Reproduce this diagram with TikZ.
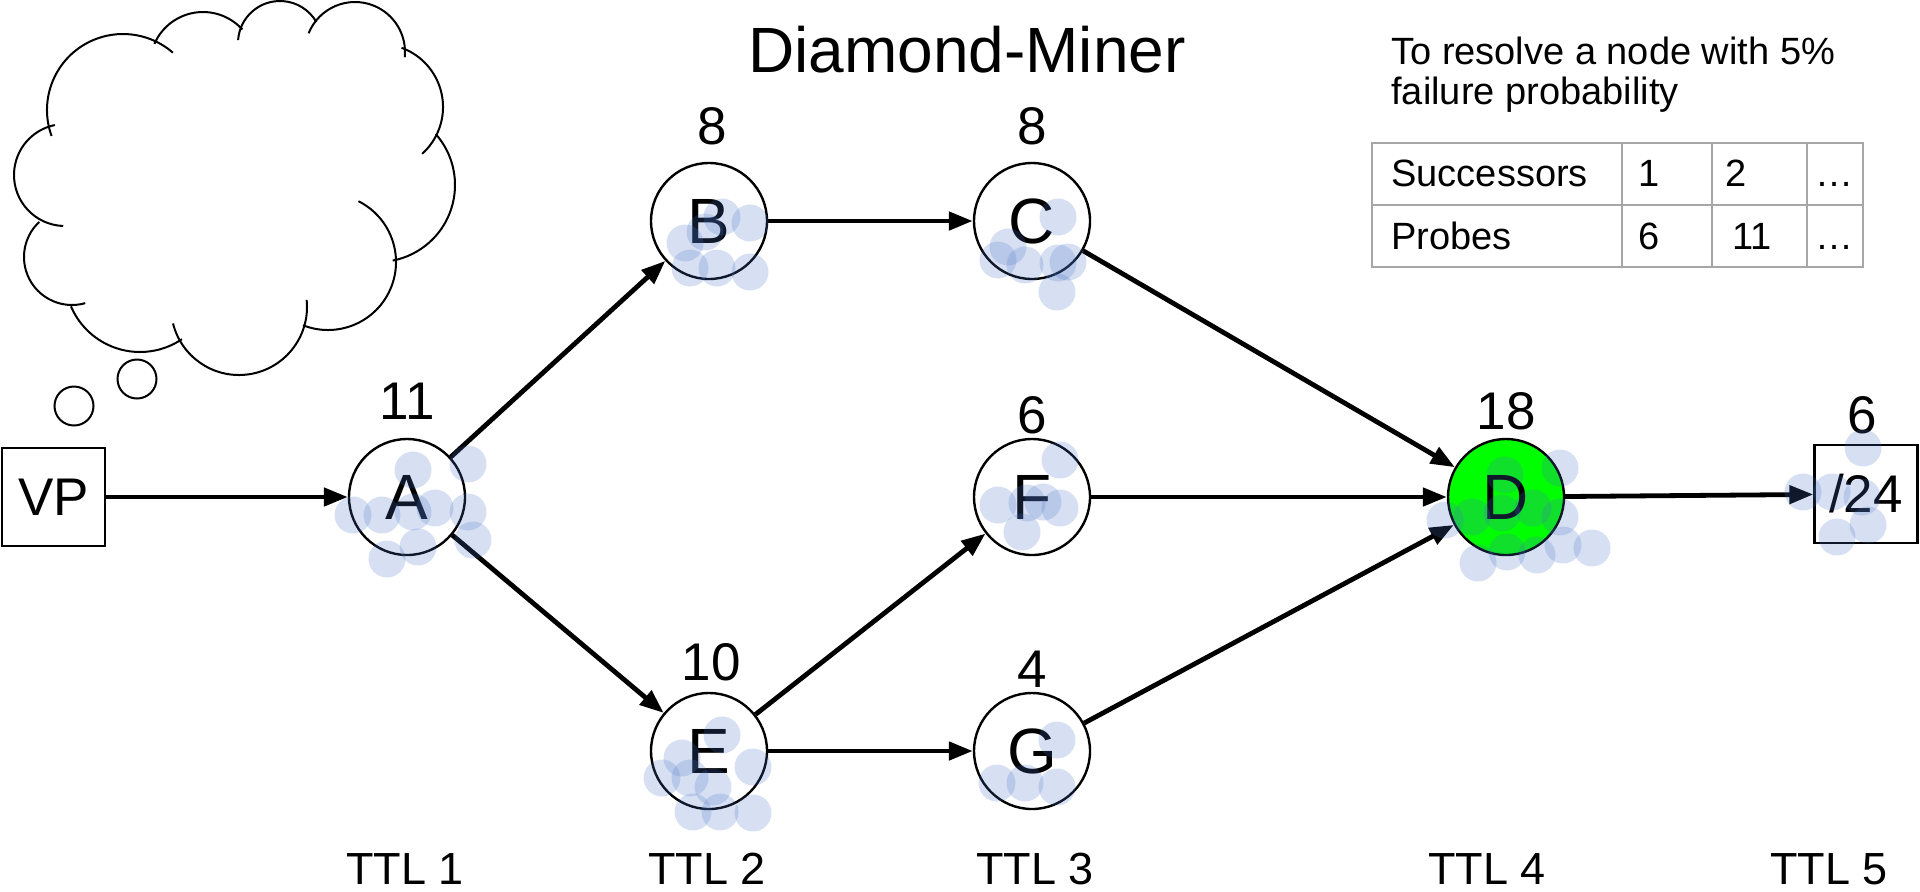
\documentclass[tikz,border=0pt]{standalone}
\usepackage{fontspec}
\setmainfont{Liberation Sans}
\usetikzlibrary{arrows.meta}

\definecolor{probeblue}{RGB}{74,114,196}
\definecolor{tablegray}{RGB}{166,166,166}
\definecolor{hitgreen}{RGB}{0,255,0}

\tikzset{
  hop/.style={circle, draw, line width=1.2pt, minimum size=58pt, inner sep=0pt,
              font=\fontsize{32}{36}\selectfont},
  endbox/.style={rectangle, draw, line width=1.2pt, minimum width=51.5pt,
                 minimum height=49pt, inner sep=0pt, font=\fontsize{26.5}{30}\selectfont},
  count/.style={font=\fontsize{26.5}{30}\selectfont, inner sep=0pt},
  ttl/.style={font=\fontsize{22.5}{26}\selectfont, inner sep=0pt},
  link/.style={line width=2.4pt, -{Triangle[length=12pt,width=9pt]}},
  probedot/.style={fill=probeblue, fill opacity=0.22},
  cloudline/.style={line width=1pt},
  gridline/.style={draw=tablegray, line width=1pt},
  cell/.style={font=\fontsize{19}{23}\selectfont, inner sep=0pt},
  caption/.style={font=\fontsize{19}{23}\selectfont, inner sep=0pt, anchor=base west},
}

\begin{document}
\begin{tikzpicture}[x=0.5pt, y=-0.5pt]
  \useasboundingbox (0,0) rectangle (1920,891);

  % title
  \node[font=\fontsize{32}{36}\selectfont, inner sep=0pt, anchor=base] (title) at (967,72) {Diamond-Miner};

  % thought cloud, drawn as overlapping arcs
  \draw[cloudline] (123,110) ++(160:76)   arc[start angle=160,   end angle=311,   radius=76];
  \draw[cloudline] (203,65)  ++(203.5:53) arc[start angle=203.5, end angle=318,   radius=53];
  \draw[cloudline] (280,43)  ++(184:42)   arc[start angle=184,   end angle=330,   radius=42];
  \draw[cloudline] (355,52)  ++(202:50)   arc[start angle=202,   end angle=366,   radius=50];
  \draw[cloudline] (380,107) ++(290:63)   arc[start angle=290,   end angle=408,   radius=63];
  \draw[cloudline] (378,185) ++(318.6:77) arc[start angle=318.6, end angle=439,   radius=77];
  \draw[cloudline] (328,262) ++(296.6:68) arc[start angle=296.6, end angle=471.6, radius=68];
  \draw[cloudline] (239,307) ++(-6:68)    arc[start angle=-6,    end angle=166,   radius=68];
  \draw[cloudline] (140,277) ++(56:75)    arc[start angle=56,    end angle=157,   radius=75];
  \draw[cloudline] (72,257)  ++(74:48)    arc[start angle=74,    end angle=227,   radius=48];
  \draw[cloudline] (65,175)  ++(92:51)    arc[start angle=92,    end angle=258.5, radius=51];
  \draw[cloudline] (137,379) circle[radius=19.5];
  \draw[cloudline] (74,406)  circle[radius=19.5];

  % vantage point, hops and destination
  \node[endbox] (VP) at (53.5,497) {VP};
  \node[hop] (A) at (407,497) {A};
  \node[hop] (B) at (709,221) {B};
  \node[hop] (C) at (1032,221) {C};
  \node[hop] (E) at (709,751) {E};
  \node[hop] (F) at (1032,497) {F};
  \node[hop] (G) at (1032,751) {G};
  \node[hop, fill=hitgreen] (D) at (1506,497) {D};
  \node[endbox] (T) at (1866,494) {/24};

  % probe counts
  \node[count] (nA) at (407,401) {11};
  \node[count] (nB) at (712,126) {8};
  \node[count] (nC) at (1032,126) {8};
  \node[count] (nE) at (711,662) {10};
  \node[count] (nF) at (1032,415) {6};
  \node[count] (nG) at (1032,669) {4};
  \node[count] (nD) at (1506,411) {18};
  \node[count] (nT) at (1862,415) {6};

  % links
  \draw[link] (VP) -- (A);
  \draw[link] (A) -- (B);
  \draw[link] (A) -- (E);
  \draw[link] (B) -- (C);
  \draw[link] (E) -- (F);
  \draw[link] (E) -- (G);
  \draw[link] (C) -- (D);
  \draw[link] (F) -- (D);
  \draw[link] (G) -- (D);
  \draw[link] (D) -- (T);

  % TTL labels
  \node[ttl] (t1) at (405,869) {TTL 1};
  \node[ttl] (t2) at (707,869) {TTL 2};
  \node[ttl] (t3) at (1035,869) {TTL 3};
  \node[ttl] (t4) at (1487,869) {TTL 4};
  \node[ttl] (t5) at (1829,869) {TTL 5};

  % table of probes needed
  \node[caption] (cap1) at (1391,64) {To resolve a node with 5\%};
  \node[caption] (cap2) at (1391,104) {failure probability};
  \draw[gridline] (1372,143) rectangle (1863,267);
  \draw[gridline] (1372,205) -- (1863,205);
  \foreach \cx in {1622,1712,1807} \draw[gridline] (\cx,143) -- (\cx,267);
  \node[cell, anchor=base west] (s0) at (1391,186) {Successors};
  \node[cell, anchor=base] (s1) at (1649,186) {1};
  \node[cell, anchor=base] (s2) at (1736,186) {2};
  \node[cell, anchor=base] (s3) at (1834,186) {…};
  \node[cell, anchor=base west] (p0) at (1391,249) {Probes};
  \node[cell, anchor=base] (p1) at (1649,249) {6};
  \node[cell, anchor=base] (p2) at (1752,249) {11};
  \node[cell, anchor=base] (p3) at (1834,249) {…};

  % probe replies, drawn on top
  \foreach \p in {(413,470),(468,464),(353,515),(382,515),(435,508),(468,512),(473,540),(418,547),(387,559),(413,512),
                  (722,217),(750,223),(685,243),(705,232),(690,268),(717,268),(750,272),
                  (1058,217),(1008,247),(998,260),(1025,265),(1058,263),(1068,262),(1057,292),
                  (1560,468),(1505,475),(1445,520),(1472,517),(1502,513),(1533,508),(1560,517),(1478,563),(1507,552),(1537,555),(1563,545),(1592,548),
                  (722,735),(682,758),(662,778),(690,778),(713,787),(753,767),(693,812),(720,812),(753,813),
                  (1060,460),(998,505),(1027,503),(1043,502),(1060,508),(1022,532),
                  (1057,740),(997,783),(1025,783),(1057,787),
                  (1863,448),(1803,492),(1832,492),(1862,497),(1868,525),(1837,537)}
    \fill[probedot] \p circle[radius=18.5];
\end{tikzpicture}
\end{document}
